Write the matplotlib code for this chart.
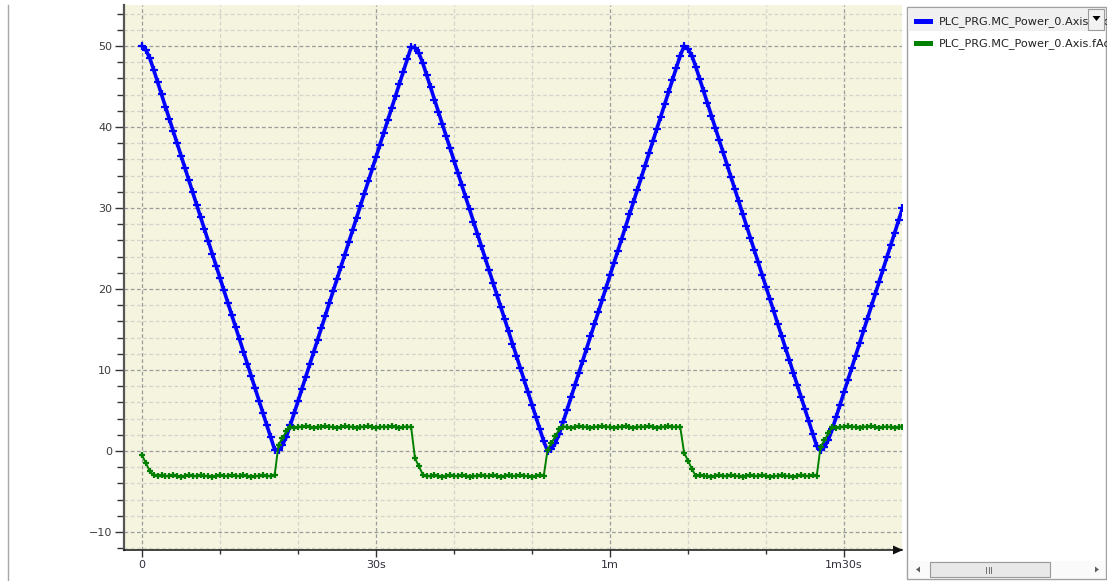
import numpy as np
import matplotlib
matplotlib.use("Agg")
import matplotlib.pyplot as plt
from matplotlib.patches import Rectangle, Polygon
from matplotlib.ticker import MultipleLocator, FixedLocator, FixedFormatter

# Trace sample period in seconds
SAMPLE_PERIOD = 0.5

position_name = "PLC_PRG.MC_Power_0.Axis.fActPosition"
velocity_name = "PLC_PRG.MC_Power_0.Axis.fActVelocity"

position_values = [
    50.00, 49.50, 48.50, 47.05, 45.54, 44.03, 42.51, 41.00, 39.49, 37.98,
    36.47, 34.95, 33.44, 31.93, 30.42, 28.91, 27.39, 25.88, 24.37, 22.86,
    21.35, 19.83, 18.32, 16.81, 15.30, 13.79, 12.27, 10.76, 9.25, 7.74,
    6.23, 4.71, 3.20, 1.69, 0.18, 0.17, 0.75, 1.75, 3.15, 4.66,
    6.16, 7.67, 9.18, 10.68, 12.19, 13.70, 15.20, 16.71, 18.22, 19.72,
    21.23, 22.74, 24.24, 25.75, 27.26, 28.76, 30.27, 31.78, 33.28, 34.79,
    36.30, 37.80, 39.31, 40.82, 42.32, 43.83, 45.34, 46.84, 48.35, 49.85,
    49.80, 49.10, 47.90, 46.39, 44.89, 43.38, 41.88, 40.37, 38.86, 37.36,
    35.85, 34.35, 32.84, 31.33, 29.83, 28.32, 26.81, 25.31, 23.80, 22.30,
    20.79, 19.28, 17.78, 16.27, 14.76, 13.26, 11.75, 10.25, 8.74, 7.23,
    5.73, 4.22, 2.71, 1.21, 0.01, 0.30, 1.01, 2.13, 3.60, 5.11,
    6.62, 8.12, 9.63, 11.14, 12.64, 14.15, 15.66, 17.16, 18.67, 20.18,
    21.68, 23.19, 24.70, 26.20, 27.71, 29.22, 30.72, 32.23, 33.74, 35.24,
    36.75, 38.26, 39.76, 41.27, 42.78, 44.28, 45.79, 47.30, 48.80, 49.99,
    49.64, 48.79, 47.45, 45.94, 44.43, 42.92, 41.41, 39.90, 38.39, 36.87,
    35.36, 33.85, 32.34, 30.83, 29.32, 27.81, 26.30, 24.79, 23.28, 21.77,
    20.26, 18.75, 17.24, 15.73, 14.22, 12.71, 11.20, 9.69, 8.18, 6.67,
    5.16, 3.65, 2.14, 0.63, 0.07, 0.53, 1.41, 2.70, 4.22, 5.73,
    7.25, 8.76, 10.28, 11.79, 13.31, 14.82, 16.34, 17.85, 19.37, 20.88,
    22.40, 23.91, 25.43, 26.94, 28.46, 29.97,
]

velocity_values = [
    -0.5, -1.5, -2.5, -3.0,
    -3.1, -3.0, -3.1, -3.1, -3.0, -3.1, -3.2, -3.1, -3.0, -3.1,
    -3.1, -3.0, -3.1, -3.1, -3.2, -3.1, -3.0, -3.1, -3.1, -3.0,
    -3.1, -3.1, -3.0, -3.1, -3.2, -3.1, -3.1, -3.0, -3.1, -3.1,
    -3.0,
    0.75, 1.58, 2.42,
    3.0, 2.9, 3.0, 3.0, 3.1, 3.0, 2.9, 3.0, 3.0, 3.1,
    3.0, 3.0, 2.9, 3.0, 3.1, 3.0, 3.0, 2.9, 3.0, 3.0,
    3.1, 3.0, 2.9, 3.0, 3.0, 3.0, 3.1, 3.0, 2.9, 3.0,
    3.0, 3.0,
    -0.9, -1.9, -2.9,
    -3.1, -3.1, -3.0, -3.1, -3.2, -3.1, -3.0, -3.1, -3.1, -3.0,
    -3.1, -3.2, -3.1, -3.1, -3.0, -3.1, -3.1, -3.0, -3.1, -3.2,
    -3.1, -3.0, -3.1, -3.1, -3.0, -3.1, -3.1, -3.2, -3.1, -3.0,
    -3.1,
    0.17, 1.0, 1.83, 2.67,
    3.0, 3.0, 2.9, 3.0, 3.1, 3.0, 3.0, 2.9, 3.0, 3.0,
    3.1, 3.0, 3.0, 2.9, 3.0, 3.0, 3.1, 3.0, 2.9, 3.0,
    3.0, 3.0, 3.1, 3.0, 2.9, 3.0, 3.0, 3.1, 3.0, 3.0,
    3.0,
    -0.2, -1.2, -2.2,
    -3.1, -3.0, -3.1, -3.1, -3.2, -3.1, -3.0, -3.1, -3.1, -3.0,
    -3.1, -3.1, -3.2, -3.1, -3.0, -3.1, -3.1, -3.0, -3.1, -3.2,
    -3.1, -3.1, -3.0, -3.1, -3.1, -3.2, -3.1, -3.0, -3.1, -3.1,
    -3.0, -3.1,
    0.5, 1.33, 2.17,
    3.0, 2.9, 3.0, 3.0, 3.1, 3.0, 3.0, 2.9, 3.0, 3.0,
    3.1, 3.0, 2.9, 3.0, 3.0, 3.0, 2.9, 3.0, 3.0,
]

time_tick_values = [0, 30, 60, 90]
time_tick_labels = ["0", "30s", "1m", "1m30s"]
value_tick_values = [-10, 0, 10, 20, 30, 40, 50]

plt.rcParams['font.family'] = ['DejaVu Sans']
FONT_SIZE = 8.0
LEGEND_FONT_SIZE = 8.1

W, H = 1107, 581
fig = plt.figure(figsize=(W / 100, H / 100), dpi=100)
fig.patch.set_facecolor('white')


def frac(x0, y0, x1, y1):
    """Pixel box (top-left origin) -> figure fraction rectangle."""
    return [x0 / W, 1 - y1 / H, (x1 - x0) / W, (y1 - y0) / H]


# ---- trace area ----
ax = fig.add_axes(frac(124, 5, 902, 550))
ax.set_facecolor('#F4F4DF')
ax.set_axisbelow(True)

t = np.arange(len(position_values)) * SAMPLE_PERIOD
traces = [
    (position_name, position_values, '#0000FF', dict(lw=2.6, ms=5.5, mew=1.6, zorder=3)),
    (velocity_name, velocity_values, '#008000', dict(lw=1.4, ms=5.0, mew=1.6, zorder=4)),
]
for name, vals, color, style in traces:
    ax.plot(t, vals, color=color, marker='+', label=name, **style)

ax.set_xlim(-2.31, 97.44)
ax.set_ylim(-12.22, 55.06)

ax.xaxis.set_major_locator(FixedLocator(time_tick_values))
ax.xaxis.set_major_formatter(FixedFormatter(time_tick_labels))
ax.xaxis.set_minor_locator(MultipleLocator(10))
ax.yaxis.set_major_locator(FixedLocator(value_tick_values))
ax.yaxis.set_minor_locator(MultipleLocator(2))

ax.grid(which='major', color='#9c9c9c', linestyle=(0, (3, 2)), linewidth=0.9)
ax.grid(which='minor', color='#d4d4ca', linestyle=(0, (3, 2)), linewidth=0.9)

ax.tick_params(axis='y', which='major', length=6.5, width=1.0, color='#333333',
               pad=2, labelsize=FONT_SIZE, labelcolor='#3c3c3c')
ax.tick_params(axis='y', which='minor', length=5, width=1.0, color='#333333')
ax.tick_params(axis='x', which='major', length=5, width=1.0, color='#333333',
               pad=2.5, labelsize=FONT_SIZE, labelcolor='#30303c')
ax.tick_params(axis='x', which='minor', length=3, width=1.0, color='#333333')

for side in ('top', 'right'):
    ax.spines[side].set_visible(False)
ax.spines['left'].set_color('#555555')
ax.spines['left'].set_linewidth(1.6)
ax.spines['bottom'].set_color('#111111')
ax.spines['bottom'].set_linewidth(1.1)

# ---- surrounding window decoration, in pixel coordinates ----
deco = fig.add_axes([0, 0, 1, 1], zorder=5)
deco.set_xlim(0, W)
deco.set_ylim(H, 0)
deco.axis('off')

# window separator on the left
deco.plot([7.5, 7.5], [5, H], color='#a8a8a8', lw=1.0)

# arrow head on the time axis
deco.add_patch(Polygon([[893, 545.5], [903, 550], [893, 554.5]], closed=True,
                       facecolor='#111111', edgecolor='none'))

# legend panel
deco.add_patch(Rectangle((907, 7), 199, 572, facecolor='white',
                         edgecolor='#a0a0a0', lw=1.0, zorder=1))
deco.add_patch(Rectangle((908, 9), 180, 22, facecolor='#f0f0f0',
                         edgecolor='none', zorder=1.5))

for i, line in enumerate(ax.get_lines()):
    yc = 21.5 + 22 * i
    deco.add_patch(Rectangle((914, yc - 2.5), 19, 5, facecolor=line.get_color(),
                             edgecolor='none', zorder=2))
    deco.text(939, yc, line.get_label(), fontsize=LEGEND_FONT_SIZE, color='#222222',
              va='center', ha='left', clip_on=True, zorder=3)

# drop-down button on the first row
deco.add_patch(Rectangle((1088, 9), 16, 21, facecolor='#f2f2f2',
                         edgecolor='#9a9a9a', lw=0.8, zorder=6))
deco.add_patch(Polygon([[1092.5, 16], [1100.5, 16], [1096.5, 21]], closed=True,
                       facecolor='black', edgecolor='none', zorder=7))

# horizontal scroll bar at the bottom of the panel
deco.add_patch(Rectangle((909, 561), 196, 17, facecolor='#fafafa',
                         edgecolor='none', zorder=2))
deco.add_patch(Polygon([[916, 569.5], [920, 566.5], [920, 572.5]], closed=True,
                       facecolor='#606060', edgecolor='none', zorder=3))
deco.add_patch(Polygon([[1099, 569.5], [1095, 566.5], [1095, 572.5]], closed=True,
                       facecolor='#606060', edgecolor='none', zorder=3))
deco.add_patch(Rectangle((930, 562), 120, 15, facecolor='#e8e8e8',
                         edgecolor='#9a9a9a', lw=0.8, zorder=3))
for gx in (986, 988.5, 991):
    deco.plot([gx, gx], [566.5, 572.5], color='#707070', lw=0.7, zorder=4)

fig.savefig("out.png", dpi=100, facecolor='white')
